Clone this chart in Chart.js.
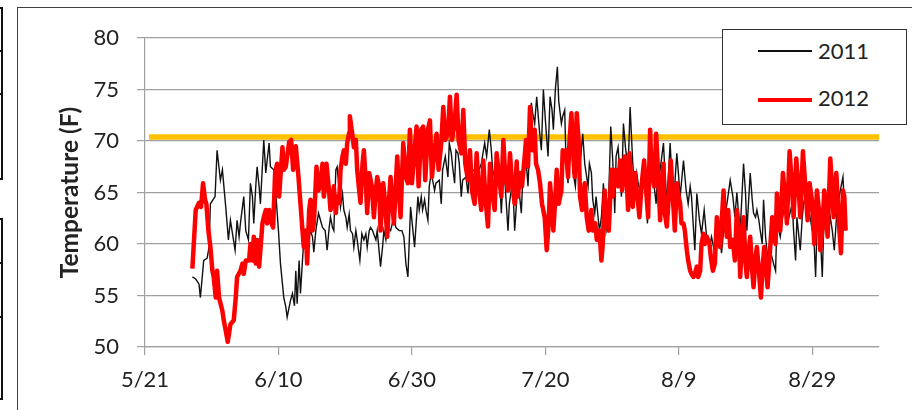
<!DOCTYPE html>
<html>
<head>
<meta charset="utf-8">
<script src="https://cdn.jsdelivr.net/npm/chart.js@4.4.1/dist/chart.umd.min.js"></script>
<style>
  html, body { margin: 0; padding: 0; background: #fff; }
  #wrap { position: relative; width: 912px; height: 410px; overflow: hidden; }
  #chart { position: absolute; left: 0; top: 0; }
  .frame { position: absolute; left: 17px; top: 7px; width: 1000px; height: 500px;
           border-left: 1.5px solid #404040; border-top: 1.5px solid #404040; }
  .cell { position: absolute; left: -30px; width: 33px; border: 2.5px solid #111; box-sizing: border-box; }
  .legend { position: absolute; left: 722px; top: 29px; width: 185px; height: 96px;
            border: 1.5px solid #333; box-sizing: border-box; background: #fff; }
  .lg-line { position: absolute; left: 758px; width: 54px; }
  .lg-text { position: absolute; left: 818px; height: 26px; line-height: 26px;
             font-family: Lato, sans-serif; font-size: 22px; color: #222; }
</style>
</head>
<body>
<div id="wrap">
  <div class="frame"></div>
  <div class="cell" style="top:7px;height:45px"></div>
  <div class="cell" style="top:50px;height:45px"></div>
  <div class="cell" style="top:93px;height:87px"></div>
  <div class="cell" style="top:218px;height:46px"></div>
  <div class="cell" style="top:262px;height:56px"></div>
  <div class="cell" style="top:316px;height:84px"></div>
  <canvas id="chart" width="912" height="410"></canvas>
  <div class="legend"></div>
  <div class="lg-line" style="top:50px;height:1.5px;background:#111"></div>
  <div class="lg-text" style="top:38px">2011</div>
  <div class="lg-line" style="top:98px;height:4px;background:#ff0000"></div>
  <div class="lg-text" style="top:85px">2012</div>
</div>
<script>
// days counted from 5/21
const tickLabels = ["5/21", "6/10", "6/30", "7/20", "8/9", "8/29"];
const limitTemp = 70.4;

const temps2011 = [[7.1,56.8],[7.6,56.6],[8.1,56.1],[8.3,54.8],[8.8,58.4],[9.3,58.6],[9.6,59.7],[9.8,63.9],[10.5,64.6],[10.8,69.1],[11.3,66.2],[11.6,67.2],[12.1,63.6],[12.5,60.4],[12.8,62.3],[13.5,59.4],[13.8,62.3],[14.1,60.7],[14.3,62.0],[14.8,64.6],[15.1,61.3],[15.5,60.4],[15.8,65.9],[16.1,64.6],[16.3,62.0],[16.6,65.6],[16.8,67.5],[17.1,65.6],[17.3,63.9],[17.8,70.1],[18.1,66.9],[18.3,68.1],[18.6,69.8],[18.8,67.5],[19.3,67.2],[19.6,64.9],[20.0,61.3],[20.3,58.1],[20.8,54.8],[21.1,53.9],[21.3,52.9],[21.8,54.5],[22.1,55.2],[22.4,54.0],[22.6,57.4],[22.8,54.2],[23.1,58.4],[23.3,55.2],[23.6,58.4],[23.8,60.4],[24.1,60.7],[24.6,60.7],[24.8,61.3],[25.1,60.7],[25.3,59.2],[25.6,61.3],[26.0,63.0],[26.3,62.3],[26.6,61.6],[27.0,61.3],[27.3,59.4],[27.6,61.6],[27.8,62.6],[28.1,61.6],[28.3,61.3],[28.6,67.2],[28.8,67.5],[29.1,65.2],[29.3,63.6],[29.6,64.9],[29.8,63.3],[30.1,62.6],[30.3,61.6],[30.6,62.9],[30.8,61.3],[31.1,61.0],[31.3,59.7],[31.6,61.3],[31.8,60.4],[32.2,58.4],[32.5,61.0],[32.8,60.4],[33.1,61.0],[33.3,59.7],[33.6,61.3],[33.8,61.6],[34.1,61.3],[34.6,60.4],[34.8,61.3],[35.3,57.8],[35.6,59.7],[35.8,61.3],[36.1,60.4],[36.3,61.6],[36.8,61.3],[37.3,62.6],[37.6,61.6],[38.1,61.3],[38.5,61.3],[38.8,60.7],[39.1,58.1],[39.4,56.8],[39.8,63.6],[40.4,59.7],[40.9,64.6],[41.1,63.3],[41.4,64.6],[41.6,63.3],[41.9,64.3],[42.1,63.3],[42.4,62.3],[42.6,65.6],[42.9,66.9],[43.1,66.2],[43.4,65.2],[43.6,65.9],[44.1,66.2],[44.4,63.9],[44.6,67.2],[45.0,68.5],[45.4,66.5],[45.6,69.8],[45.9,68.8],[46.1,67.5],[46.4,65.9],[46.6,69.1],[46.9,68.8],[47.1,67.8],[47.4,64.6],[47.6,66.2],[48.1,66.5],[48.4,64.9],[48.6,66.9],[49.1,67.2],[49.9,66.9],[50.4,67.8],[50.9,69.8],[51.2,68.5],[51.6,71.1],[51.9,69.1],[52.1,67.2],[52.6,65.9],[53.1,67.2],[53.4,63.0],[53.6,65.6],[53.9,66.5],[54.4,61.3],[54.6,63.9],[55.1,66.2],[55.4,61.3],[55.9,66.2],[56.1,64.9],[56.4,63.0],[56.6,66.2],[57.1,68.1],[57.4,65.6],[57.9,73.7],[58.1,72.7],[58.4,71.7],[58.7,74.3],[59.1,71.1],[59.4,69.1],[59.7,75.0],[60.1,71.1],[60.4,68.5],[60.7,74.3],[61.0,73.0],[61.2,71.1],[61.5,75.0],[61.8,77.2],[62.0,73.9],[62.4,71.7],[62.6,72.4],[62.9,73.0],[63.1,67.8],[63.4,65.9],[63.6,69.4],[63.9,71.4],[64.1,67.2],[64.5,65.6],[64.7,67.8],[65.1,66.9],[65.6,70.7],[65.9,67.8],[66.4,65.6],[66.6,67.8],[66.9,66.9],[67.1,64.3],[67.4,63.0],[67.6,64.6],[67.9,62.6],[68.1,61.3],[68.4,62.6],[68.7,65.9],[69.1,61.3],[69.4,62.6],[69.8,71.4],[70.1,68.1],[70.4,63.0],[70.6,68.5],[70.9,69.4],[71.4,64.6],[71.7,71.7],[72.0,69.4],[72.4,67.2],[72.7,73.3],[73.1,67.8],[73.4,65.2],[73.7,66.9],[73.9,65.9],[74.4,64.6],[74.7,67.8],[74.9,66.9],[75.3,62.0],[75.6,66.2],[75.9,68.5],[76.2,66.2],[76.6,63.9],[76.9,67.8],[77.2,67.2],[77.7,69.8],[77.9,67.2],[78.2,63.9],[78.7,69.8],[78.9,67.2],[79.2,63.9],[79.7,68.8],[79.9,67.2],[80.2,64.6],[80.7,68.1],[81.1,65.2],[81.4,63.9],[81.7,65.6],[81.9,64.6],[82.4,59.4],[82.7,64.9],[83.1,62.3],[83.4,61.0],[83.8,63.3],[84.2,60.4],[84.7,60.0],[84.9,60.7],[85.3,59.4],[85.7,60.7],[86.2,60.4],[86.4,59.1],[86.9,62.6],[87.3,64.3],[87.7,66.2],[88.1,64.6],[88.4,62.6],[88.7,65.0],[89.0,62.6],[89.2,61.3],[89.7,67.8],[90.0,64.9],[90.2,61.3],[90.7,66.9],[91.0,64.3],[91.2,63.0],[91.5,62.6],[91.7,63.3],[92.0,62.3],[92.2,61.3],[92.5,60.0],[92.7,64.3],[93.0,60.7],[93.3,58.8],[93.7,59.4],[94.2,58.1],[94.5,57.4],[94.7,62.0],[95.0,61.3],[95.2,60.7],[95.7,63.3],[96.2,63.6],[96.5,62.6],[97.0,63.9],[97.2,61.3],[97.5,58.4],[97.7,62.6],[98.0,60.7],[98.2,59.4],[98.5,62.6],[98.7,63.9],[99.0,64.9],[99.5,63.3],[100.0,61.3],[100.2,61.3],[100.5,56.8],[100.7,61.3],[101.0,63.3],[101.2,61.0],[101.5,56.8],[101.7,61.3],[102.0,62.6],[102.2,61.3],[102.5,61.6],[102.7,62.6],[103.0,61.3],[103.3,59.4],[103.7,63.3],[104.2,65.2],[104.6,66.5],[105.0,61.3]];

const temps2012 = [[7.1,57.6],[7.6,63.3],[8.1,64.0],[8.4,63.6],[8.7,65.9],[9.0,64.3],[9.2,63.9],[9.5,61.3],[9.8,59.7],[10.1,57.4],[10.3,56.8],[10.6,54.8],[10.8,57.4],[11.1,54.8],[11.6,53.5],[11.8,52.6],[12.1,51.6],[12.4,50.5],[12.8,52.2],[13.3,52.6],[13.6,54.8],[13.8,56.8],[14.3,57.4],[14.6,58.1],[14.8,57.1],[15.1,58.4],[15.6,58.4],[15.8,60.0],[16.1,58.4],[16.3,60.7],[16.6,58.1],[16.8,60.4],[17.1,57.8],[17.6,62.0],[17.8,62.6],[18.1,63.3],[18.3,62.0],[18.6,63.3],[18.8,62.3],[19.2,61.6],[19.5,66.9],[19.8,67.8],[20.1,64.6],[20.6,69.4],[20.8,67.2],[21.1,67.5],[21.6,69.9],[21.9,70.1],[22.2,67.2],[22.6,69.5],[23.0,66.5],[23.3,63.9],[23.6,61.3],[23.8,59.7],[24.1,61.3],[24.3,58.1],[24.6,63.3],[24.8,64.3],[25.1,61.3],[25.3,62.0],[25.5,64.6],[25.7,67.5],[26.0,65.2],[26.3,65.9],[26.6,67.8],[26.8,64.6],[27.0,65.6],[27.2,67.8],[27.6,65.0],[27.8,63.3],[28.1,64.3],[28.3,65.6],[28.6,63.0],[28.8,64.6],[29.1,64.0],[29.3,67.2],[29.6,68.5],[29.8,69.1],[30.1,67.8],[30.3,69.8],[30.6,70.8],[30.7,72.4],[31.1,70.5],[31.3,69.4],[31.6,70.1],[31.8,67.2],[32.1,65.2],[32.3,64.0],[32.6,67.8],[32.8,69.1],[33.1,65.9],[33.3,63.0],[33.6,66.9],[34.0,65.6],[34.3,62.6],[34.6,65.2],[34.8,66.5],[35.1,65.6],[35.3,61.3],[35.7,65.9],[36.0,63.9],[36.3,60.7],[36.6,64.6],[36.8,66.5],[37.1,63.6],[37.3,62.0],[37.6,65.9],[37.8,68.5],[38.1,64.6],[38.3,62.6],[38.7,69.8],[39.1,66.5],[39.4,65.9],[39.7,71.1],[40.0,65.9],[40.4,69.1],[40.7,71.4],[41.0,65.6],[41.4,71.1],[41.7,71.4],[42.0,66.2],[42.4,71.1],[42.7,72.0],[43.0,66.5],[43.4,69.1],[43.7,70.7],[44.0,67.2],[44.4,69.8],[44.7,73.3],[45.0,70.1],[45.4,70.7],[45.7,74.3],[46.0,70.1],[46.4,71.7],[46.7,74.5],[47.0,70.1],[47.4,68.8],[47.7,73.0],[48.0,67.8],[48.4,66.2],[48.7,69.1],[49.0,65.2],[49.4,63.9],[49.7,68.8],[50.0,65.6],[50.4,63.3],[50.7,68.1],[51.0,64.6],[51.4,61.7],[51.7,67.8],[52.0,65.2],[52.4,63.3],[52.7,68.8],[53.0,66.9],[53.4,64.6],[53.7,70.1],[54.0,66.5],[54.4,65.2],[54.7,68.8],[55.0,65.9],[55.4,63.9],[55.7,68.0],[55.9,64.6],[56.2,66.9],[56.5,65.6],[56.9,68.5],[57.1,70.1],[57.4,67.5],[57.7,73.3],[58.0,69.1],[58.4,71.1],[58.6,67.8],[58.9,67.2],[59.2,65.9],[59.5,63.9],[59.9,62.6],[60.2,59.4],[60.5,62.0],[60.7,65.9],[61.0,63.3],[61.2,61.3],[61.5,64.6],[61.7,67.2],[62.0,63.9],[62.4,65.2],[62.6,69.1],[62.9,68.5],[63.1,69.1],[63.4,66.5],[63.6,69.8],[63.9,72.7],[64.1,69.8],[64.4,66.5],[64.7,72.7],[65.0,69.8],[65.2,64.6],[65.5,63.3],[65.9,65.9],[66.2,62.6],[66.5,61.3],[66.9,63.3],[67.1,61.3],[67.5,62.0],[67.7,60.4],[68.1,61.3],[68.4,58.4],[68.6,60.0],[68.9,65.2],[69.2,62.6],[69.5,61.3],[69.9,67.2],[70.1,64.6],[70.5,67.2],[70.9,65.6],[71.2,68.1],[71.5,65.2],[71.9,68.5],[72.2,66.0],[72.4,63.3],[72.6,68.8],[72.8,66.9],[73.1,63.6],[73.4,66.9],[73.8,64.6],[74.1,62.6],[74.4,65.6],[74.8,68.1],[75.1,65.2],[75.4,62.6],[75.7,71.1],[75.9,67.2],[76.3,65.6],[76.6,70.7],[76.9,66.9],[77.2,62.3],[77.4,65.2],[77.7,67.8],[77.9,63.0],[78.2,61.7],[78.6,65.6],[78.8,68.1],[79.1,64.6],[79.4,61.3],[79.7,65.9],[79.9,64.9],[80.2,63.9],[80.4,62.0],[80.7,62.0],[80.9,61.3],[81.2,59.4],[81.4,58.4],[81.7,57.4],[81.9,57.1],[82.2,56.8],[82.4,57.1],[82.7,57.8],[82.9,56.8],[83.2,57.4],[83.4,60.0],[83.7,61.0],[83.9,60.0],[84.2,60.7],[84.6,60.0],[84.8,58.7],[85.1,57.4],[85.4,58.1],[85.7,62.6],[85.9,61.0],[86.2,59.7],[86.7,65.2],[86.9,62.6],[87.2,60.7],[87.4,63.3],[87.7,59.7],[88.1,60.4],[88.4,58.4],[88.7,63.3],[89.0,61.3],[89.2,56.8],[89.5,60.7],[89.7,62.6],[90.0,58.1],[90.2,56.8],[90.5,59.4],[90.7,60.7],[91.0,57.4],[91.2,55.8],[91.5,58.7],[91.7,59.7],[92.0,57.4],[92.3,54.8],[92.6,58.1],[92.8,59.7],[93.1,57.4],[93.3,55.8],[93.6,58.7],[94.0,62.6],[94.2,60.7],[94.5,60.0],[94.7,64.9],[95.0,62.6],[95.2,61.3],[95.6,66.9],[96.0,64.0],[96.2,62.0],[96.6,69.0],[97.0,65.2],[97.2,62.6],[97.6,68.3],[98.0,64.9],[98.2,62.6],[98.6,69.0],[99.0,65.2],[99.3,62.3],[99.6,65.9],[100.0,64.0],[100.3,60.0],[100.7,65.2],[101.0,63.3],[101.2,59.4],[101.5,61.3],[101.8,65.2],[102.1,62.6],[102.3,60.7],[102.7,68.3],[103.0,65.2],[103.2,62.6],[103.6,66.9],[104.0,62.0],[104.3,59.1],[104.6,65.2],[104.8,64.6],[105.0,61.3]];

const toPoints = arr => arr.map(p => ({ x: p[0], y: p[1] }));
const gridGray = "#a0a0a0";
const textDark = "#222";

// first dataset is painted last (on top)
new Chart(document.getElementById("chart").getContext("2d"), {
  type: "line",
  data: {
    datasets: [
      {
        label: "2012",
        data: toPoints(temps2012),
        borderColor: "#ff0000",
        borderWidth: 4.5,
        borderJoinStyle: "round",
      },
      {
        label: "2011",
        data: toPoints(temps2011),
        borderColor: "#111",
        borderWidth: 1.4,
      },
      {
        label: "limit",
        data: [{ x: 0.6, y: limitTemp }, { x: 110, y: limitTemp }],
        borderColor: "#ffc000",
        borderWidth: 5.5,
        borderCapStyle: "butt",
      },
    ]
  },
  options: {
    responsive: false,
    animation: false,
    layout: { padding: { top: 38, right: 33, left: 0, bottom: 0 } },
    elements: { point: { radius: 0 }, line: { tension: 0 } },
    plugins: { legend: { display: false }, tooltip: { enabled: false } },
    scales: {
      x: {
        type: "linear",
        min: 0,
        max: 110,
        afterFit: s => { s.height = 63; },
        grid: { drawOnChartArea: false, drawTicks: true, tickLength: 8, color: gridGray, lineWidth: 1.2 },
        border: { color: gridGray, width: 1.2 },
        ticks: {
          stepSize: 20,
          includeBounds: false,
          padding: 12,
          color: textDark,
          font: { family: "Lato", size: 22 },
          maxRotation: 0,
          callback: v => tickLabels[v / 20],
        },
      },
      y: {
        min: 50,
        max: 80,
        afterFit: s => { s.width = 145; },
        grid: { color: gridGray, lineWidth: 1.2, tickLength: 8 },
        border: { color: gridGray, width: 1.2 },
        ticks: {
          stepSize: 5,
          padding: 18,
          color: textDark,
          font: { family: "Lato", size: 22 },
        },
        title: {
          display: true,
          text: "Temperature (F)",
          color: textDark,
          font: { family: "Lato", size: 24.5, weight: "bold" },
          padding: { top: 55, bottom: 0 },
        },
      },
    }
  }
});
</script>
</body>
</html>
